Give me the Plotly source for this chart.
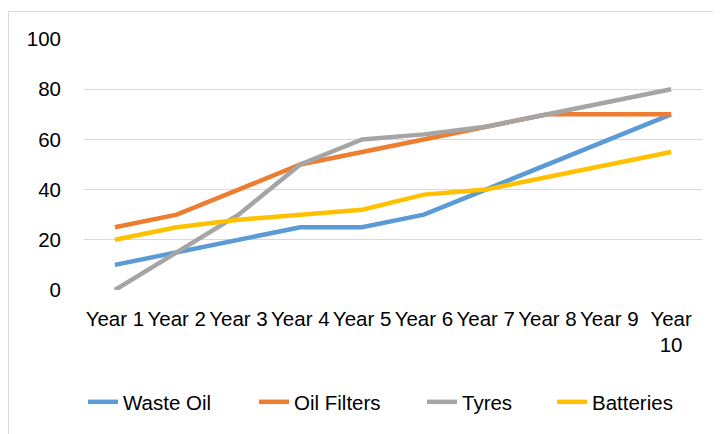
import plotly.graph_objects as go

categories = ["Year 1", "Year 2", "Year 3", "Year 4", "Year 5",
              "Year 6", "Year 7", "Year 8", "Year 9", "Year<br>10"]
waste_oil = [10, 15, 20, 25, 25, 30, 40, 50, 60, 70]
oil_filters = [25, 30, 40, 50, 55, 60, 65, 70, 70, 70]
tyres = [0, 15, 30, 50, 60, 62, 65, 70, 75, 80]
batteries = [20, 25, 28, 30, 32, 38, 40, 45, 50, 55]
y_ticks = [0, 20, 40, 60, 80, 100]

series_names = ["Waste Oil", "Oil Filters", "Tyres", "Batteries"]
series_values = [waste_oil, oil_filters, tyres, batteries]
colors = ["#5B9BD5", "#ED7D31", "#A5A5A5", "#FFC000"]
legend_text_x = [125, 296, 464, 594]   # screenshot px where legend text starts

FONT = "Liberation Sans, Arial, sans-serif"
FS = 20.5

# page body has an 8px margin; work in screenshot coordinates
OFF = 8
W, H = 721 - OFF, 434 - OFF
L, T = 84 - OFF, 39 - OFF
R = W - (702 - OFF)
B = H - (290 - OFF)
pw, ph = W - L - R, H - T - B

def px_x(x):
    return (x - OFF - L) / pw

def px_y(y):
    return (H - B - (y - OFF)) / ph

fig = go.Figure()
legends = {}
for i, (name, vals, col) in enumerate(zip(series_names, series_values, colors)):
    lname = "legend" if i == 0 else f"legend{i + 1}"
    fig.add_trace(go.Scatter(x=categories, y=vals, name=name, mode="lines",
                             line=dict(color=col, width=4.5, shape="linear"),
                             legend=lname, hoverinfo="skip"))
    legends[lname] = dict(orientation="h", x=px_x(legend_text_x[i] - 42),
                          xanchor="left", y=px_y(402), yanchor="middle",
                          font=dict(family=FONT, size=FS, color="#000000"),
                          bgcolor="rgba(0,0,0,0)", itemwidth=30)

fig.update_layout(
    width=W, height=H,
    margin=dict(l=L, r=R, t=T, b=B, autoexpand=False),
    paper_bgcolor="white", plot_bgcolor="white",
    font=dict(family=FONT, size=FS, color="#000000"),
    showlegend=True,
    xaxis=dict(type="category", range=[-0.5, 9.5], showgrid=False,
               showline=False, zeroline=False, ticks="", tickangle=0,
               tickfont=dict(family=FONT, size=FS), ticklabelstandoff=14),
    yaxis=dict(range=[0, 100], tickvals=y_ticks, showgrid=True,
               gridcolor="#D9D9D9", gridwidth=1.3, zeroline=False,
               showline=False, ticks="", ticklabelstandoff=22,
               tickfont=dict(family=FONT, size=FS)),
    shapes=[dict(type="rect", xref="paper", yref="paper",
                 x0=px_x(8.5), x1=px_x(740), y0=px_y(460), y1=px_y(11.5),
                 line=dict(color="#D9D9D9", width=1), layer="below")],
    **legends,
)

fig.write_html("out.html")
